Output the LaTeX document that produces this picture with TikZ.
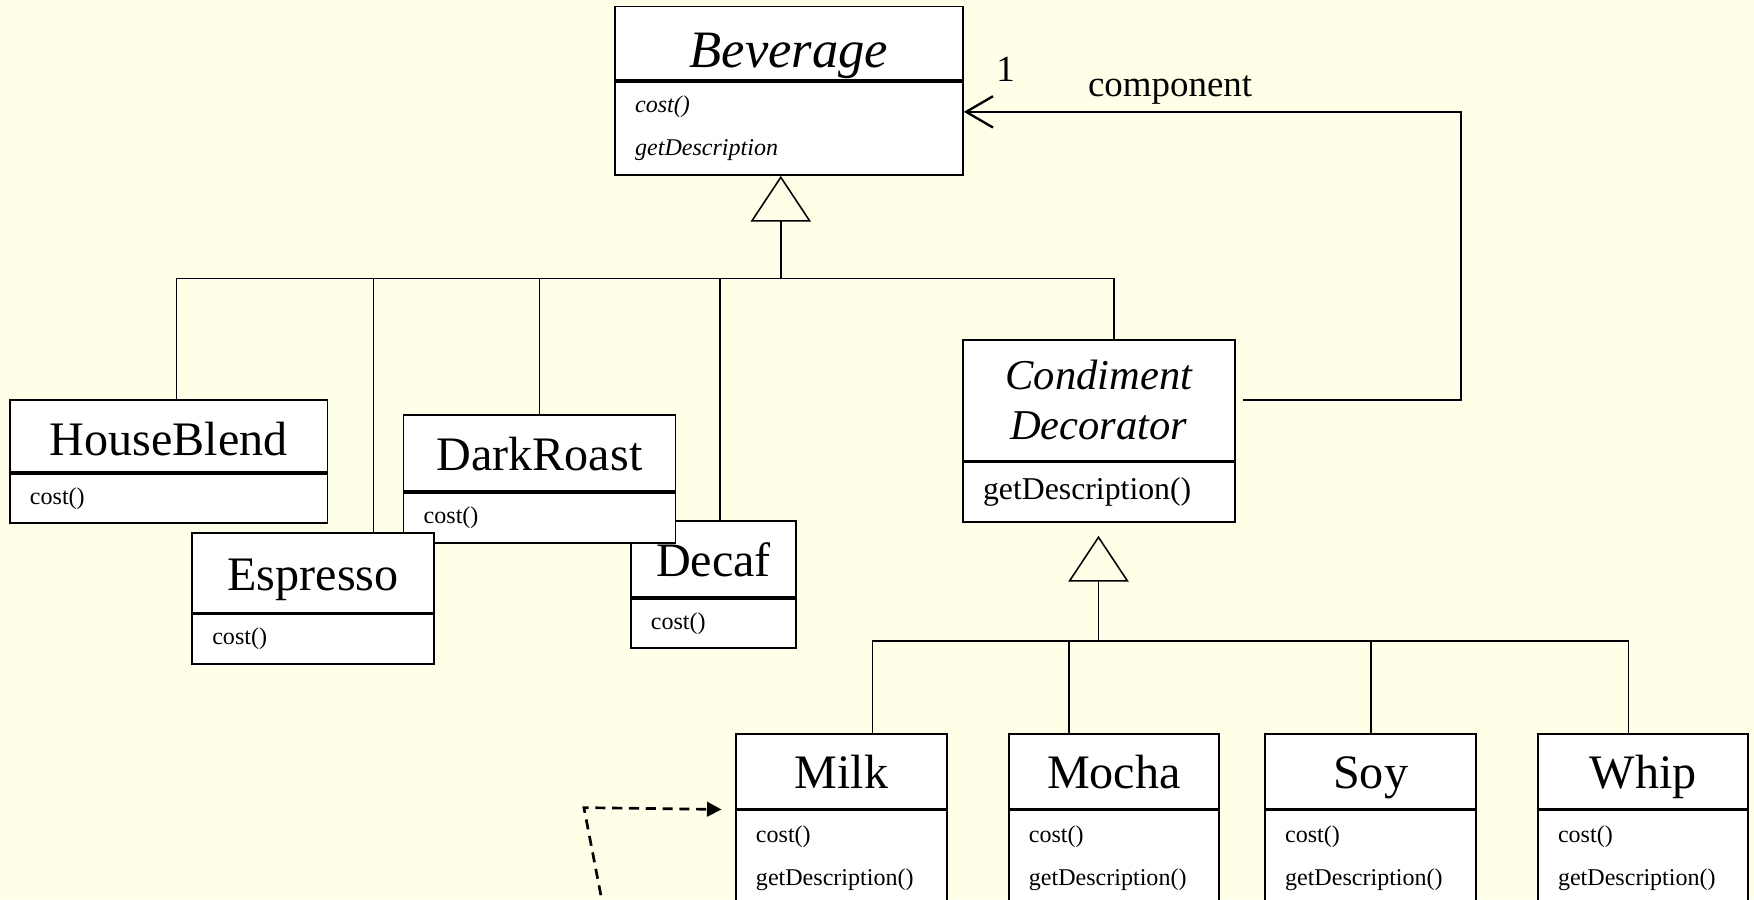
\documentclass[tikz,border=0pt]{standalone}
\usepackage{fontspec}
\setmainfont{Liberation Serif}
\usetikzlibrary{positioning,arrows.meta}
\definecolor{paper}{RGB}{255,255,232}

\begin{document}
\begin{tikzpicture}[%
    x=1pt, y=-1pt,
    classbox/.style={%
      draw,               % outside edge
      fill=white,         % white inside
      line width=1.6pt,   % box edge width
      inner sep=0pt
    },
    classname/.style={%
      classbox,           % box style above
      minimum width=#1,   % width of the class
      minimum height=67pt,
      anchor=north west,  % placed by its corner
      text height=31pt,   % same baseline in every box
      text depth=0pt,
      font=\fontsize{43}{46}\selectfont
    },
    classops/.style={%
      classbox,           % box style above
      text width=#1,      % width minus the margins
      inner xsep=18pt,
      minimum height=44pt,
      align=left,         % operations on the left
      font=\fontsize{21.5}{38.5}\selectfont
    },
    tree/.style={%
      line width=1.4pt    % plain joining lines
    },
    inherit/.style={%
      tree,
      -{Triangle[open,length=41pt,width=54pt]}  % hollow triangle
    },
    assoc/.style={%
      line width=2.1pt,
      -{Straight Barb[length=24pt,width=28pt]}  % open head
    },
    depends/.style={%
      line width=2.4pt,
      dash pattern=on 9pt off 6pt,
      -{Triangle[length=13pt,width=13pt]}       % filled head
    },
    rolefont/.style={%
      inner sep=0pt,
      font=\fontsize{33}{36}\selectfont
    }
]

    \useasboundingbox (0,0) rectangle (1568,804);
    \clip (0,0) rectangle (1568,804);
    \fill[paper] (0,0) rectangle (1568,804);

    % nodes
    \node[classname=311pt, minimum height=66pt, text height=43pt,
          font=\fontsize{47}{50}\selectfont\itshape] (bev) at (549,5) {Beverage};
    \node[classops=275pt, minimum height=83pt, below=0pt of bev,
          font=\fontsize{21.5}{38.5}\selectfont\itshape] (bevops) {cost()\\getDescription};

    \node[classname=284pt, minimum height=64pt, text height=35pt] (hb) at (8,357) {HouseBlend};
    \node[classops=248pt, below=0pt of hb] (hbops) {cost()};

    \node[classname=148pt, minimum height=68pt] (decaf) at (563,465) {Decaf};
    \node[classops=112pt, below=0pt of decaf] (decafops) {cost()};

    \node[classname=243pt, minimum height=68pt] (dr) at (360,370) {DarkRoast};
    \node[classops=207pt, minimum height=45pt, below=0pt of dr] (drops) {cost()};

    \node[classname=216pt, minimum height=71pt] (esp) at (171,476) {Espresso};
    \node[classops=180pt, below=0pt of esp] (espops) {cost()};

    \node[classbox, minimum width=243pt, minimum height=108pt, anchor=north west,
          align=center, font=\fontsize{38}{45}\selectfont\itshape] (cond) at (860,303)
          {Condiment\\Decorator};
    \node[classops=207pt, minimum height=53pt, below=0pt of cond,
          font=\fontsize{28.4}{32}\selectfont] (condops) {getDescription()};

    \node[classname=189pt] (milk)  at (657,655)  {Milk};
    \node[classops=153pt, minimum height=86pt, below=0pt of milk] (milkops)
          {cost()\\getDescription()};
    \node[classname=188pt] (mocha) at (901,655)  {Mocha};
    \node[classops=152pt, minimum height=86pt, below=0pt of mocha] (mochaops)
          {cost()\\getDescription()};
    \node[classname=189pt] (soy)   at (1130,655) {Soy};
    \node[classops=153pt, minimum height=86pt, below=0pt of soy] (soyops)
          {cost()\\getDescription()};
    \node[classname=188pt] (whip)  at (1374,655) {Whip};
    \node[classops=152pt, minimum height=86pt, below=0pt of whip] (whipops)
          {cost()\\getDescription()};

    \node[rolefont, anchor=base] (mult) at (899,73) {1};
    \node[rolefont, anchor=base] (role) at (1046,86) {component};

    % connections
    \coordinate (busB) at (698,249);
    \draw[inherit] (busB) -- (busB |- bevops.south);
    \draw[tree] (busB) -| ([xshift=7pt]hb.north);
    \draw[tree] (busB) -| ([xshift=54pt]esp.north);
    \draw[tree] (busB) -| (dr.north);
    \draw[tree] (busB) -| ([xshift=6pt]decaf.north);
    \draw[tree] (busB) -| ([xshift=13.5pt]cond.north);

    \coordinate (tri)  at (982,479);
    \coordinate (busD) at (982,573);
    \draw[inherit] (busD) -- (tri);
    \draw[tree] (busD) -| ([xshift=27.5pt]milk.north);
    \draw[tree] (busD) -| ([xshift=-40pt]mocha.north);
    \draw[tree] (busD) -| ([xshift=0.5pt]soy.north);
    \draw[tree] (busD) -| ([xshift=-13pt]whip.north);

    % decorator keeps its component
    \coordinate (turn) at (1306,100);
    \draw[assoc] ([xshift=7pt]cond.east) -| (turn) -- (turn -| bevops.east);

    % dashed arrow coming in from below
    \coordinate (client) at (540,815);
    \coordinate (bend)   at (522,722);
    \draw[depends] (client) -- (bend) -- ([xshift=-12pt]milk.south west);

\end{tikzpicture}
\end{document}
